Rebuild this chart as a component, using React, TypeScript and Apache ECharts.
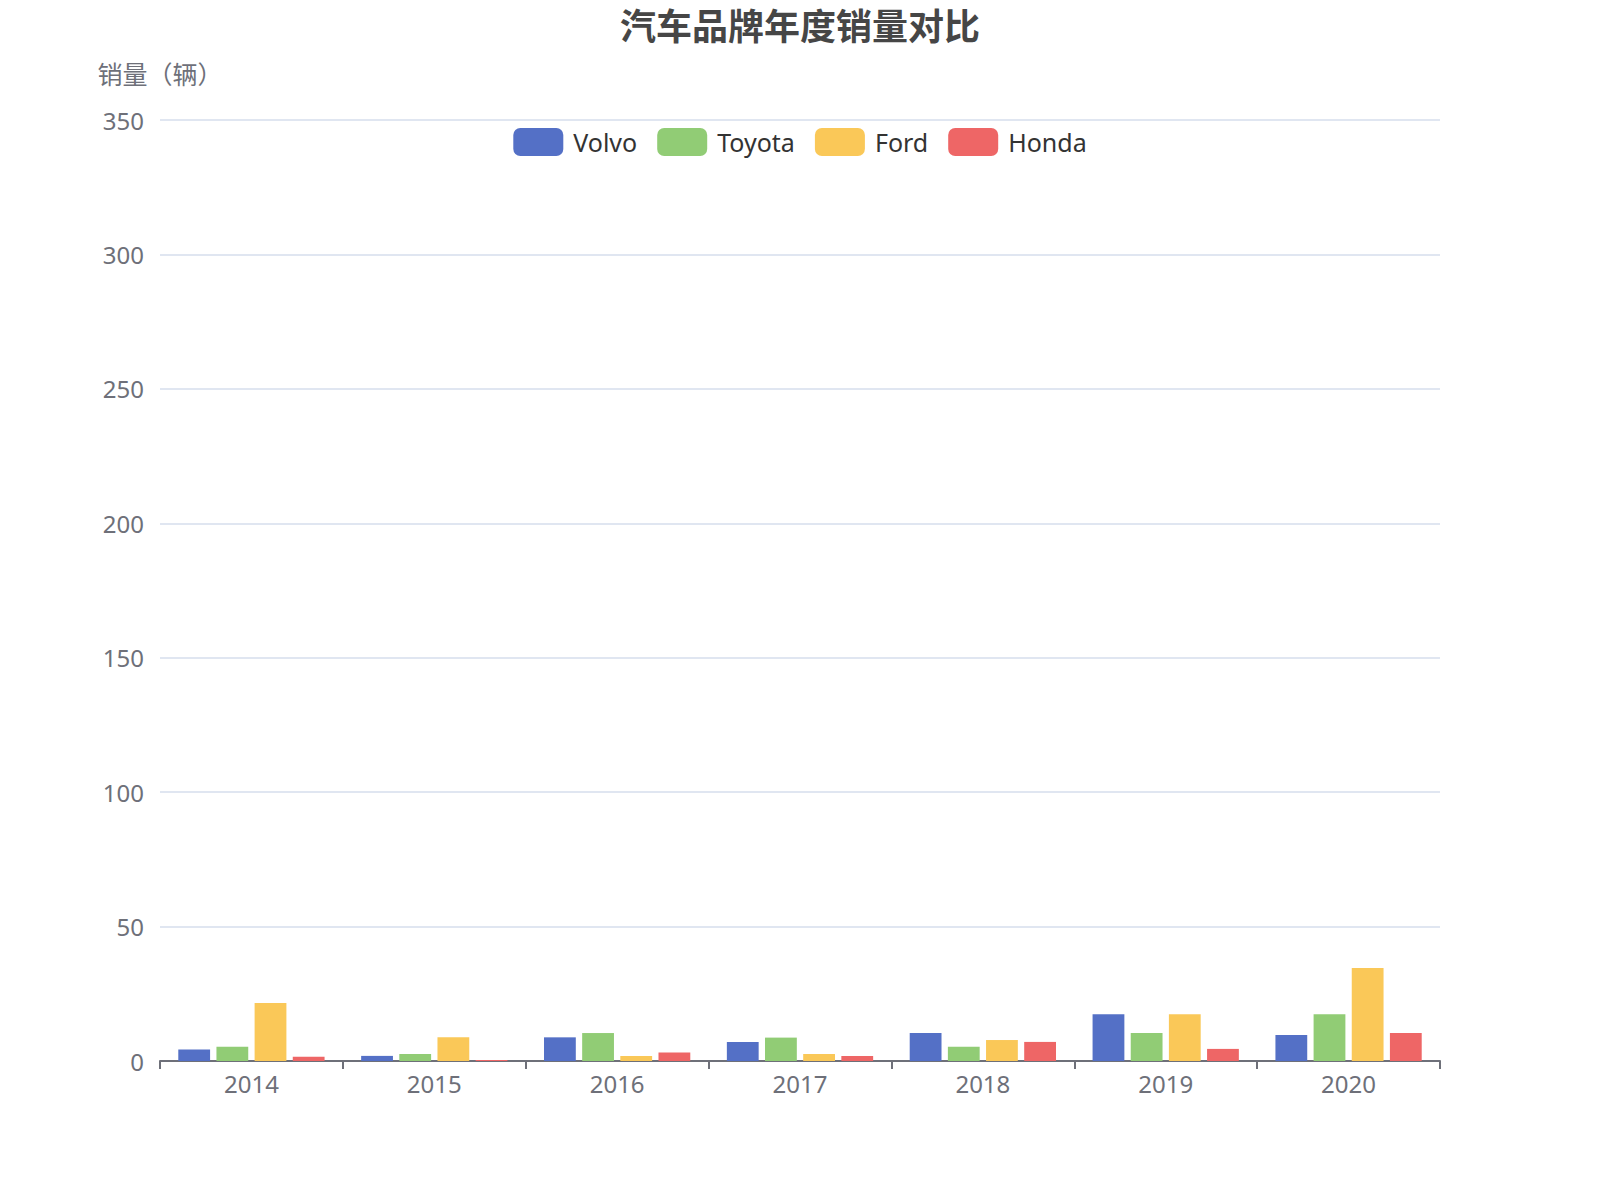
import React, { useEffect, useRef } from 'react';
import * as echarts from 'echarts';

const years = ['2014', '2015', '2016', '2017', '2018', '2019', '2020'];
const brands = ['Volvo', 'Toyota', 'Ford', 'Honda'];
const volvo = [4.3, 1.9, 8.8, 7.1, 10.4, 17.4, 9.7];
const toyota = [5.3, 2.6, 10.4, 8.7, 5.3, 10.4, 17.4];
const ford = [21.6, 8.8, 1.9, 2.6, 7.8, 17.4, 34.6];
const honda = [1.6, 0.4, 3.2, 1.9, 7.1, 4.5, 10.4];
const colors = ['#5470c6', '#91cc75', '#fac858', '#ee6666'];

const FONT = '"Noto Sans", "Noto Sans CJK SC", sans-serif';

export default function App() {
  const chartRef = useRef<HTMLDivElement>(null);

  useEffect(() => {
    if (!chartRef.current) return;
    const chart = echarts.init(chartRef.current, null, { renderer: 'svg' });
    const seriesData = [volvo, toyota, ford, honda];

    const option = {
      animation: false,
      color: colors,
      textStyle: { fontFamily: FONT },
      title: {
        text: '汽车品牌年度销量对比',
        left: 'center',
        top: 1,
        textStyle: { fontSize: 36, fontWeight: 'bold', color: '#464646', fontFamily: '"Noto Sans CJK SC", sans-serif' }
      },
      legend: {
        data: brands,
        top: 123,
        left: 'center',
        itemWidth: 50,
        itemHeight: 28,
        itemGap: 20,
        textStyle: { fontSize: 25, color: '#333', padding: [0, 0, 0, 5] }
      },
      grid: {
        left: 160,
        right: 160,
        top: 120,
        bottom: 139
      },
      xAxis: {
        type: 'category',
        data: years,
        axisLine: { lineStyle: { color: '#6e7079', width: 2 } },
        axisTick: { show: true, length: 8, lineStyle: { color: '#6e7079', width: 2 } },
        axisLabel: { fontSize: 24, color: '#6e7079', margin: 10 }
      },
      yAxis: {
        type: 'value',
        min: 0,
        max: 350,
        interval: 50,
        name: '销量（辆）',
        nameGap: 35,
        nameTextStyle: { fontSize: 25, color: '#6e7079', fontFamily: '"Noto Sans CJK SC", sans-serif' },
        axisLabel: { fontSize: 24, color: '#6e7079', margin: 16, padding: [0, 0, 7, 0] },
        splitLine: { lineStyle: { color: '#e0e6f1', width: 2 } }
      },
      series: brands.map((name, i) => ({
        name,
        type: 'bar',
        data: seriesData[i],
        barGap: '20%',
        barCategoryGap: '20%',
        itemStyle: { color: colors[i] }
      }))
    };

    chart.setOption(option);
    return () => {
      chart.dispose();
    };
  }, []);

  return (
    <div
      ref={chartRef}
      style={{ position: 'absolute', left: 0, top: 0, width: 1600, height: 1200 }}
    />
  );
}
